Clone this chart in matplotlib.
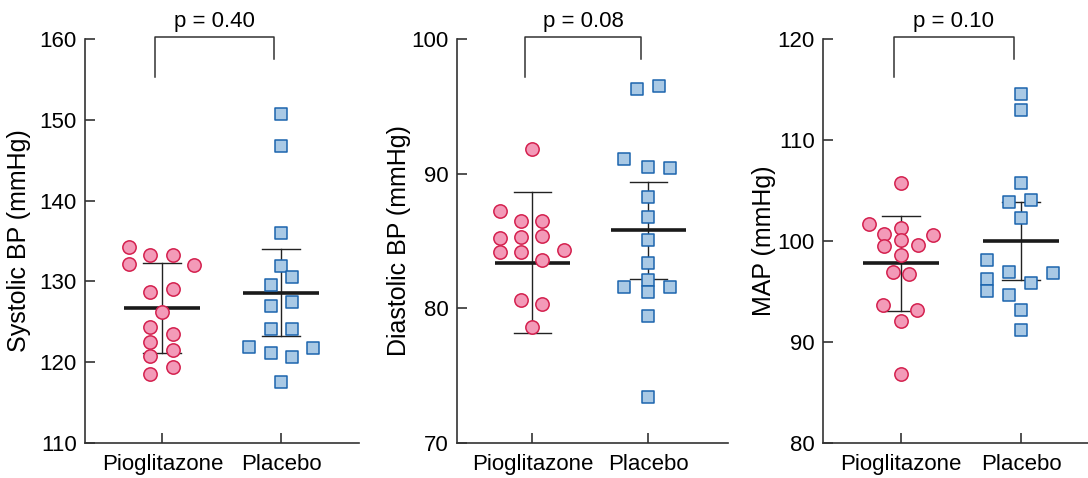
import matplotlib
matplotlib.use("Agg")
import matplotlib.pyplot as plt
import numpy as np

plt.rcParams['font.family'] = ['Liberation Sans', 'DejaVu Sans']

groups = ['Pioglitazone', 'Placebo']

# systolic BP
sbp_pio = [134.3, 133.3, 133.3, 132.1, 132.0, 128.7, 129.1, 126.2, 124.4, 123.5, 122.5, 120.8, 121.5, 119.4, 118.5]
sbp_pio_dx = [-0.28, -0.10, 0.09, -0.28, 0.27, -0.10, 0.09, 0.0, -0.10, 0.09, -0.10, -0.10, 0.09, 0.09, -0.10]
sbp_pla = [150.7, 146.8, 136.0, 131.9, 130.5, 129.5, 127.0, 127.4, 124.1, 124.1, 121.9, 121.7, 121.1, 120.6, 117.5]
sbp_pla_dx = [0, 0, 0, 0, 0.09, -0.09, -0.09, 0.09, -0.09, 0.09, -0.27, 0.27, -0.09, 0.09, 0]
sbp_mean = [126.7, 128.6]
sbp_err = [5.55, 5.4]

# diastolic BP
dbp_pio = [91.8, 87.2, 86.5, 86.5, 85.2, 85.3, 85.4, 84.2, 84.2, 84.3, 83.6, 80.6, 80.3, 78.6]
dbp_pio_dx = [0, -0.28, -0.10, 0.08, -0.28, -0.10, 0.08, -0.28, -0.10, 0.27, 0.08, -0.10, 0.08, 0]
dbp_pla = [96.3, 96.5, 91.1, 90.5, 90.4, 88.3, 86.8, 85.1, 83.4, 82.1, 81.6, 81.6, 81.2, 79.4, 73.4]
dbp_pla_dx = [-0.10, 0.09, -0.21, 0, 0.19, 0, 0, 0, 0, 0, -0.21, 0.19, 0, 0, 0]
dbp_mean = [83.4, 85.8]
dbp_err = [5.25, 3.6]

# MAP
map_pio = [105.7, 101.7, 101.3, 100.7, 100.6, 100.1, 99.5, 99.6, 98.6, 96.9, 96.7, 93.7, 93.2, 92.1, 86.8]
map_pio_dx = [0, -0.27, 0, -0.14, 0.27, 0, -0.14, 0.14, 0, -0.07, 0.07, -0.15, 0.13, 0, 0]
map_pla = [114.6, 113.0, 105.7, 103.9, 104.1, 102.3, 98.1, 96.9, 96.8, 96.2, 95.8, 95.0, 94.7, 93.2, 91.2]
map_pla_dx = [0, 0, 0, -0.10, 0.08, 0, -0.28, -0.10, 0.27, -0.28, 0.08, -0.28, -0.10, 0, 0]
map_mean = [97.8, 100.0]
map_err = [4.7, 3.9]

panels = [
    dict(pio=sbp_pio, pio_dx=sbp_pio_dx, pla=sbp_pla, pla_dx=sbp_pla_dx, mean=sbp_mean, err=sbp_err,
         ylim=(110, 160), ylabel='Systolic BP (mmHg)', p='p = 0.40', left=85, step=119, xmax=1.65, lab=54),
    dict(pio=dbp_pio, pio_dx=dbp_pio_dx, pla=dbp_pla, pla_dx=dbp_pla_dx, mean=dbp_mean, err=dbp_err,
         ylim=(70, 100), ylabel='Diastolic BP (mmHg)', p='p = 0.08', left=457, step=116, xmax=1.69, lab=46),
    dict(pio=map_pio, pio_dx=map_pio_dx, pla=map_pla, pla_dx=map_pla_dx, mean=map_mean, err=map_err,
         ylim=(80, 120), ylabel='MAP (mmHg)', p='p = 0.10', left=823, step=120, xmax=1.65, lab=47),
]

W, H = 1088, 478
fig = plt.figure(figsize=(W / 100, H / 100), dpi=100)

xmin = -0.65
spine_col = '#333333'
for pn in panels:
    wpx = (pn['xmax'] - xmin) * pn['step']
    ax = fig.add_axes([pn['left'] / W, 35 / H, wpx / W, 404 / H])

    # error bars and means (behind markers)
    for i in range(2):
        m, e = pn['mean'][i], pn['err'][i]
        ax.plot([i, i], [m - e, m + e], color='#222222', lw=1.0, zorder=1)
        ax.plot([i - 0.16, i + 0.16], [m + e, m + e], color='#222222', lw=1.0, zorder=1)
        ax.plot([i - 0.16, i + 0.16], [m - e, m - e], color='#222222', lw=1.0, zorder=1)
        ax.plot([i - 0.32, i + 0.32], [m, m], color='#1a1a1a', lw=2.6, zorder=1,
                solid_capstyle='butt')

    ax.scatter(np.array(pn['pio_dx']), pn['pio'], s=92, marker='o',
               facecolor='#F39AB8', edgecolor='#D4204E', linewidth=1.1, zorder=2)
    ax.scatter(1 + np.array(pn['pla_dx']), pn['pla'], s=84, marker='s',
               facecolor='#A9C9E5', edgecolor='#1B64AE', linewidth=1.1, zorder=2)

    ax.set_xlim(xmin, pn['xmax'])
    ax.set_ylim(*pn['ylim'])
    ax.set_yticks(np.arange(pn['ylim'][0], pn['ylim'][1] + 1, 10))
    ax.set_xticks([0, 1])
    ax.set_xticklabels(groups)
    ax.tick_params(axis='both', direction='in', length=7, width=1.2, color=spine_col,
                   labelsize=16, colors='black')
    ax.tick_params(axis='y', pad=6)
    ax.tick_params(axis='x', pad=8)
    for s in ['top', 'right']:
        ax.spines[s].set_visible(False)
    for s in ['left', 'bottom']:
        ax.spines[s].set_color(spine_col)
        ax.spines[s].set_linewidth(1.2)
    ax.set_ylabel(pn['ylabel'], fontsize=18)
    ax.yaxis.set_label_coords(-pn['lab'] / wpx, 0.5)

    # significance bracket
    tr = ax.get_xaxis_transform()
    x0, x1 = -0.06, 0.94
    ax.plot([x0, x0, x1, x1], [0.906, 1.005, 1.005, 0.95], transform=tr,
            color=spine_col, lw=1.1, clip_on=False)
    ax.text((x0 + x1) / 2, 1.043, pn['p'], transform=tr, ha='center', va='center',
            fontsize=16)

fig.savefig('out.png', dpi=100)
